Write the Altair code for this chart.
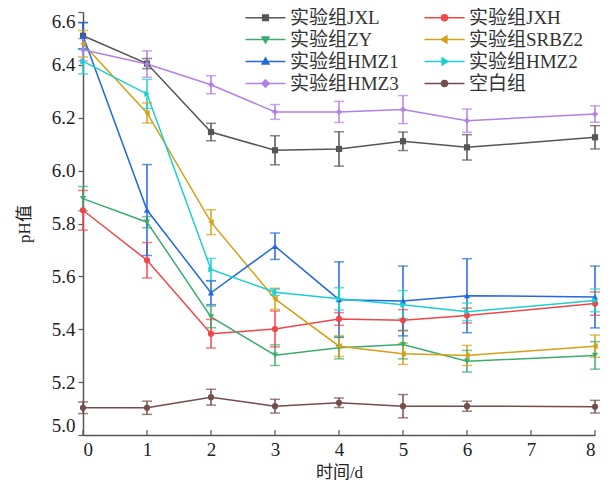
import altair as alt
import pandas as pd

days = [0, 1, 2, 3, 4, 5, 6, 8]
groups = ["实验组JXL", "实验组JXH", "实验组ZY", "实验组SRBZ2",
          "实验组HMZ1", "实验组HMZ2", "实验组HMZ3", "空白组"]
x_ticks = [0, 1, 2, 3, 4, 5, 6, 7, 8]
y_ticks = [5.0, 5.2, 5.4, 5.6, 5.8, 6.0, 6.2, 6.4, 6.6]

jxl = [6.51, 6.405, 6.146, 6.077, 6.082, 6.111, 6.088, 6.126]
jxl_err = [0.05, 0.019, 0.033, 0.055, 0.065, 0.035, 0.048, 0.044]
jxh = [5.85, 5.661, 5.383, 5.401, 5.439, 5.434, 5.452, 5.497]
jxh_err = [0.075, 0.067, 0.054, 0.068, 0.024, 0.04, 0.028, 0.044]
zy = [5.894, 5.805, 5.447, 5.302, 5.33, 5.342, 5.279, 5.301]
zy_err = [0.046, 0.021, 0.041, 0.039, 0.042, 0.054, 0.041, 0.052]
srbz2 = [6.48, 6.218, 5.805, 5.515, 5.336, 5.307, 5.301, 5.336]
srbz2_err = [0.05, 0.038, 0.047, 0.04, 0.039, 0.04, 0.038, 0.042]
hmz1 = [6.51, 5.851, 5.538, 5.714, 5.512, 5.507, 5.527, 5.522]
hmz1_err = [0.05, 0.172, 0.045, 0.05, 0.143, 0.132, 0.14, 0.117]
hmz2 = [6.413, 6.29, 5.626, 5.54, 5.515, 5.493, 5.466, 5.509]
hmz2_err = [0.047, 0.055, 0.042, 0.012, 0.042, 0.053, 0.033, 0.043]
hmz3 = [6.457, 6.403, 6.325, 6.222, 6.222, 6.231, 6.189, 6.214]
hmz3_err = [0.042, 0.05, 0.034, 0.028, 0.04, 0.053, 0.044, 0.031]
blank = [5.103, 5.103, 5.143, 5.109, 5.122, 5.109, 5.109, 5.107]
blank_err = [0.022, 0.025, 0.03, 0.026, 0.018, 0.044, 0.019, 0.024]

series = [jxl, jxh, zy, srbz2, hmz1, hmz2, hmz3, blank]
errors = [jxl_err, jxh_err, zy_err, srbz2_err, hmz1_err, hmz2_err, hmz3_err, blank_err]

colors = ["#555555", "#f0464a", "#3cab6e", "#d4a016",
          "#2169e0", "#1ccfd0", "#b380e8", "#744c4c"]
shapes = ["square", "circle", "triangle-down", "triangle-left",
          "triangle-up", "triangle-right", "diamond", "circle"]

rows = []
for g, vals, errs in zip(groups, series, errors):
    for d, v, e in zip(days, vals, errs):
        rows.append({"group": g, "day": d, "ph": v, "lo": v - e, "hi": v + e})
df = pd.DataFrame(rows)
tick_df = pd.DataFrame({"t": x_ticks})


# legend symbols: a horizontal line with a marker (unit = 5 px)
def poly(pts, k):
    return "M" + "L".join(f"{x*k:.3f},{y*k:.3f}" for x, y in pts) + "Z"


def circ(r):
    return f"M{-r},0A{r},{r},0,1,0,{r},0A{r},{r},0,1,0,{-r},0Z"


marker_pts = {
    "square": [(-0.56, -0.56), (0.56, -0.56), (0.56, 0.56), (-0.56, 0.56)],
    "triangle-down": [(-0.68, -0.48), (0.68, -0.48), (0, 0.68)],
    "triangle-up": [(-0.68, 0.48), (0.68, 0.48), (0, -0.68)],
    "triangle-left": [(0.48, -0.68), (0.48, 0.68), (-0.68, 0)],
    "triangle-right": [(-0.48, -0.68), (-0.48, 0.68), (0.68, 0)],
    "diamond": [(0, -0.72), (0.72, 0), (0, 0.72), (-0.72, 0)],
}


def legend_path(s):
    p = "M-4,0H4"
    if s == "circle":
        return p + circ(0.6) + circ(0.3)
    return p + poly(marker_pts[s], 1) + poly(marker_pts[s], 0.5)


# legend entries fill column by column: reorder so they read row by row
order = [0, 2, 4, 6, 1, 3, 5, 7]
leg_domain = [groups[i] for i in order]
leg_colors = [colors[i] for i in order]
leg_paths = [legend_path(shapes[i]) for i in order]

font = "Times New Roman, Liberation Serif, Noto Sans CJK SC, serif"

color_scale = alt.Scale(domain=groups, range=colors)
x_enc = alt.X("day:Q", scale=alt.Scale(domain=[0, 8], nice=False),
              axis=alt.Axis(values=x_ticks, format="d", title="时间/d", ticks=False,
                            labelPadding=5, titlePadding=5, grid=False))
y_enc = alt.Y("ph:Q", scale=alt.Scale(domain=[5.0, 6.6], nice=False, zero=False),
              axis=alt.Axis(values=y_ticks, format=".1f", title="pH值", tickSize=5,
                            labelPadding=3, titlePadding=18, grid=False,
                            labelFlush=True, labelFlushOffset=0))

base = alt.Chart(df)

lines = base.mark_line(strokeWidth=1.5).encode(
    x=x_enc, y=y_enc,
    color=alt.Color("group:N", scale=color_scale, legend=None),
    detail="group:N")

bars = base.mark_rule(strokeWidth=1.5).encode(
    x="day:Q", y="lo:Q", y2="hi:Q",
    color=alt.Color("group:N", scale=color_scale, legend=None))

caps_lo = base.mark_tick(orient="horizontal", size=10, thickness=1.5).encode(
    x="day:Q", y="lo:Q",
    color=alt.Color("group:N", scale=color_scale, legend=None))
caps_hi = base.mark_tick(orient="horizontal", size=10, thickness=1.5).encode(
    x="day:Q", y="hi:Q",
    color=alt.Color("group:N", scale=color_scale, legend=None))

point_layers = []
for g, s in zip(groups, shapes):
    point_layers.append(
        base.transform_filter(alt.datum.group == g)
        .mark_point(filled=True, size=38, opacity=1, shape=s)
        .encode(x="day:Q", y="ph:Q",
                color=alt.Color("group:N", scale=color_scale, legend=None)))

inner_ticks = alt.Chart(tick_df).mark_rule(color="#555555", strokeWidth=1.2).encode(
    x="t:Q", y=alt.datum(5.0), y2=alt.datum(5.019))

leg = alt.Legend(title=None, orient="none", legendX=158, legendY=-4,
                 columns=2, columnPadding=21, rowPadding=2,
                 symbolSize=100, symbolOffset=15, labelOffset=15,
                 symbolStrokeWidth=1.5, symbolOpacity=1, labelFontSize=19,
                 labelFont=font, labelColor="#333333",
                 labelLimit=300, padding=0)

legend_layer = base.transform_filter("datum.day < -100").mark_point(
    filled=False, opacity=1).encode(
    x="day:Q", y="ph:Q",
    stroke=alt.Stroke("group:N", scale=alt.Scale(domain=leg_domain, range=leg_colors), legend=leg),
    shape=alt.Shape("group:N", scale=alt.Scale(domain=leg_domain, range=leg_paths), legend=leg))

chart = alt.layer(lines, bars, caps_lo, caps_hi, *point_layers, inner_ticks, legend_layer).properties(
    width=512, height=423,
    background="white",
    autosize=alt.AutoSizeParams(type="none"),
    padding={"left": 75, "top": 4, "right": 12, "bottom": 45},
).configure_view(stroke=None).configure_axis(
    labelFont=font, titleFont=font, labelFontSize=19, titleFontSize=17,
    titleFontWeight="normal", labelColor="#222222", titleColor="#222222",
    domainColor="#555555", tickColor="#555555", domainWidth=1.5, tickWidth=1.2,
).configure_legend(orient="none", legendX=158, legendY=-4)

chart.save("out.html", embed_options={"renderer": "svg", "actions": False})
